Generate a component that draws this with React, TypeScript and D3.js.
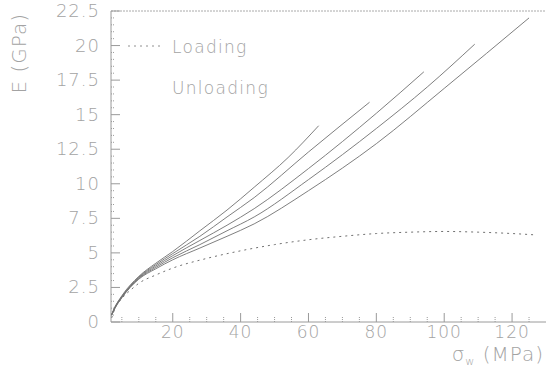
import React from 'react';
import * as d3 from 'd3';

// sigma_w (MPa) vs E (GPa)
const loadingX = [2, 3, 5, 8, 10, 15, 20, 30, 40, 50, 60, 70, 80, 90, 100, 110, 120, 127];
const loadingY = [0.3, 1.0, 1.7, 2.4, 2.8, 3.4, 3.9, 4.6, 5.15, 5.6, 5.95, 6.2, 6.4, 6.5, 6.55, 6.5, 6.4, 6.3];

const unload1X = [2, 3, 5, 10, 15, 20, 28, 36, 44, 54, 63];
const unload1Y = [0.55, 1.1, 1.9, 3.3, 4.25, 5.1, 6.6, 8.1, 9.75, 11.9, 14.2];
const unload2X = [2, 3, 5, 10, 15, 20, 28, 36, 44, 60, 78];
const unload2Y = [0.55, 1.1, 1.85, 3.25, 4.15, 4.95, 6.2, 7.6, 9.0, 12.3, 15.9];
const unload3X = [2, 3, 5, 10, 15, 20, 28, 36, 44, 60, 80, 94];
const unload3Y = [0.5, 1.05, 1.8, 3.2, 4.05, 4.8, 5.9, 7.0, 8.2, 11.1, 15.1, 18.1];
const unload4X = [2, 3, 5, 10, 15, 20, 28, 36, 44, 60, 80, 95, 109];
const unload4Y = [0.5, 1.05, 1.8, 3.15, 3.95, 4.65, 5.6, 6.6, 7.6, 10.3, 14.0, 17.0, 20.1];
const unload5X = [2, 3, 5, 10, 15, 20, 28, 36, 44, 60, 80, 100, 125];
const unload5Y = [0.5, 1.0, 1.75, 3.1, 3.85, 4.5, 5.35, 6.2, 7.1, 9.5, 12.9, 16.9, 22.0];

const unloadSeries = [
  [unload1X, unload1Y],
  [unload2X, unload2Y],
  [unload3X, unload3Y],
  [unload4X, unload4Y],
  [unload5X, unload5Y],
];

const xTicks = [20, 40, 60, 80, 100, 120];
const yTicks = [0, 2.5, 5, 7.5, 10, 12.5, 15, 17.5, 20, 22.5];
const legendLabels = ['Loading', 'Unloading'];

const W = 546;
const H = 374;

const App: React.FC = () => {
  const x = d3.scaleLinear().domain([1.8, 130]).range([111, 546]);
  const y = d3.scaleLinear().domain([0, 22.5]).range([322, 11]);

  const line = d3.line<[number, number]>()
    .x(d => x(d[0]))
    .y(d => y(d[1]))
    .curve(d3.curveMonotoneX);

  const zip = (xs: number[], ys: number[]) => xs.map((v, i) => [v, ys[i]] as [number, number]);

  const xMinor = d3.range(5, 130, 5).filter(v => v % 20 !== 0);
  const yMinor = d3.range(0.5, 22.5, 0.5).filter(v => Math.abs(v / 2.5 - Math.round(v / 2.5)) > 1e-6);

  const font = '"DejaVu Sans", sans-serif';
  const textCol = '#a3a3a3';
  const axisCol = '#9a9a9a';

  return (
    <svg width={W} height={H} style={{ position: 'absolute', left: 0, top: 0, background: '#fff' }}>
      {/* frame top */}
      <line x1={111} x2={546} y1={11} y2={11} stroke="#aaa" strokeWidth={1} strokeDasharray="2,1" />
      {/* axes */}
      <line x1={111} x2={546} y1={322} y2={322} stroke={axisCol} strokeWidth={1} />
      <line x1={111} x2={111} y1={322} y2={11} stroke={axisCol} strokeWidth={1} />

      {xTicks.map(t => (
        <g key={'xt' + t}>
          <line x1={x(t)} x2={x(t)} y1={322} y2={313} stroke={axisCol} />
          <text x={x(t)} y={338} textAnchor="middle" fontFamily={font} fontWeight={200}
            fontSize={17} fill={textCol} letterSpacing={1}>{t}</text>
        </g>
      ))}
      {xMinor.map(t => (
        <line key={'xm' + t} x1={x(t)} x2={x(t)} y1={322} y2={317} stroke={axisCol} strokeDasharray="1,1" />
      ))}

      {yTicks.map(t => (
        <g key={'yt' + t}>
          <line x1={111} x2={120} y1={y(t)} y2={y(t)} stroke={axisCol} />
          <text x={100} y={y(t) + 6} textAnchor="end" fontFamily={font} fontWeight={200}
            fontSize={18} fill={textCol} letterSpacing={1}>{t}</text>
        </g>
      ))}
      {yMinor.map(t => (
        <line key={'ym' + t} x1={111} x2={115} y1={y(t)} y2={y(t)} stroke={axisCol} strokeDasharray="1,1" />
      ))}

      {/* axis titles */}
      <text transform="translate(26,13) rotate(-90)" textAnchor="end" fontFamily={font} fontWeight={200}
        fontSize={20} fill={textCol} letterSpacing={1}>E (GPa)</text>
      <text x={544} y={361} textAnchor="end" fontFamily={font} fontWeight={200} fontSize={20} fill={textCol}
        letterSpacing={1}>
        σ<tspan fontSize={11} dy={4}>w</tspan><tspan dy={-4}> (MPa)</tspan>
      </text>

      {/* curves */}
      {unloadSeries.map(([xs, ys], i) => (
        <path key={'u' + i} d={line(zip(xs, ys)) || ''} fill="none" stroke="#707070" strokeWidth={0.9} />
      ))}
      <path d={line(zip(loadingX, loadingY)) || ''} fill="none" stroke="#707070" strokeWidth={1}
        strokeDasharray="2,4" />

      {/* legend */}
      <line x1={128} x2={162} y1={46} y2={46} stroke="#909090" strokeDasharray="2,4" />
      <text x={172} y={53} fontFamily={font} fontWeight={200} fontSize={17} fill={textCol} letterSpacing={1.3}>
        {legendLabels[0]}
      </text>
      <text x={172} y={94} fontFamily={font} fontWeight={200} fontSize={17} fill={textCol} letterSpacing={1.3}>
        {legendLabels[1]}
      </text>
    </svg>
  );
};

export default App;
